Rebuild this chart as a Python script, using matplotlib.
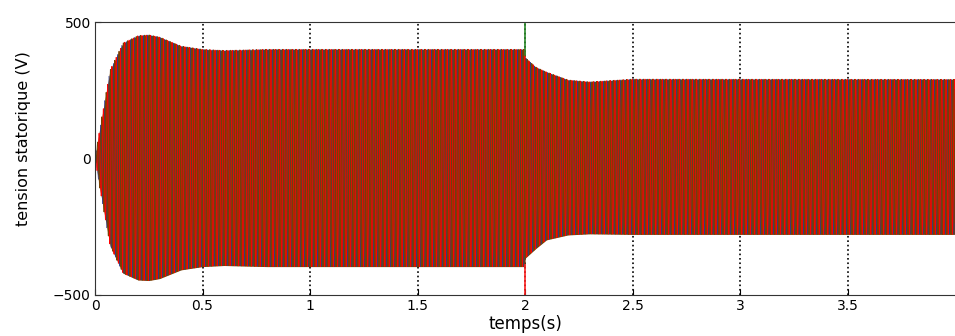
#stator voltage of the three phases, dense 50 Hz oscillation
#envelope

import numpy as np
import matplotlib
matplotlib.use('Agg')
import matplotlib.pyplot as plt

#envelope of the voltage (V), upper and lower
t_env = [0.0, 0.02, 0.07, 0.13, 0.20, 0.25, 0.30, 0.40, 0.50, 0.60, 0.80,
         2.0, 2.001, 2.05, 2.10, 2.20, 2.30, 2.50, 4.0]
env_top = [0, 100, 324, 423, 450, 453, 445, 412, 400, 396, 400,
           400, 370, 335, 317, 288, 281, 291, 290]
env_bot = [0, -100, -320, -420, -445, -447, -440, -408, -396, -392, -396,
           -396, -365, -330, -298, -280, -276, -278, -278]

#switching transient at t = 2 s
spike_t = 2.0
spike_green = [380, 600]
spike_red = [-390, -600]

freq = 50.0
#phase a, b, c (b shows up brown in the picture, red and green mixed)
phase_colors = ['#23399a', '#7a4000', '#ff0000']
phase_widths = [0.3, 0.6, 0.55]

t = np.arange(0, 4.0, 1e-4)
top = np.interp(t, t_env, env_top)
bot = np.interp(t, t_env, env_bot)
mid = (top + bot) / 2
half = (top - bot) / 2

fig = plt.figure(figsize=(9.55, 3.36), dpi=100)
ax = fig.add_axes([95/955, 41/336, 860/955, 273/336])

ax.fill_between(t, bot, top, color='#7a4000', lw=0)
for k, c in enumerate(phase_colors):
    v = mid + half*np.sin(2*np.pi*freq*t - k*2*np.pi/3)
    ax.plot(t, v, color=c, lw=phase_widths[k])

ax.plot([spike_t, spike_t], spike_green, color='#2a8a2a', lw=1.2)
ax.plot([spike_t, spike_t], spike_red, color='#ff2020', lw=1.2)

ax.set_xlim(0, 4)
ax.set_ylim(-500, 500)
ax.set_xticks(np.arange(0, 3.51, 0.5))
ax.set_xticklabels(['0', '0.5', '1', '1.5', '2', '2.5', '3', '3.5'])
ax.set_yticks([-500, 0, 500])
ax.tick_params(direction='in', labelsize=10, length=4, pad=3)
ax.grid(True, axis='x', color='k', linestyle=':', lw=1.2)
ax.set_axisbelow(True)
for s in ax.spines.values():
    s.set_color('#333333')
ax.spines['right'].set_visible(False)

ax.set_xlabel('temps(s)', fontsize=12, labelpad=1)
ax.set_ylabel('tension statorique (V)', fontsize=11.5)
ax.yaxis.set_label_coords(-0.074, 0.573)

fig.savefig('out.png', dpi=100)
